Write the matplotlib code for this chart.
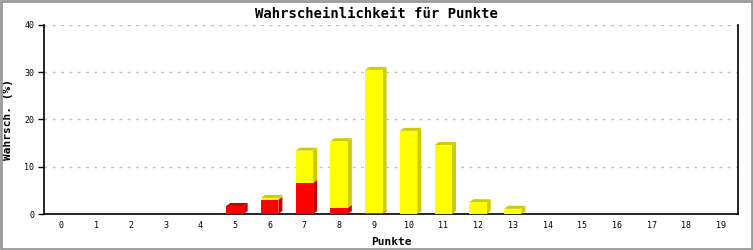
import numpy as np
import matplotlib
matplotlib.use("Agg")
import matplotlib.pyplot as plt

punkte = list(range(20))
rot = [0, 0, 0, 0, 0, 1.7, 3.0, 6.6, 1.3, 0.2, 0, 0, 0, 0, 0, 0, 0, 0, 0, 0]
gelb = [0, 0, 0, 0, 0, 0, 0.4, 6.8, 14.1, 30.3, 17.6, 14.6, 2.5, 1.1, 0, 0, 0, 0, 0, 0]
y_ticks = [0, 10, 20, 30, 40]

plt.rcParams["font.family"] = "DejaVu Sans Mono"

fig = plt.figure(figsize=(7.53, 2.5), dpi=100)
W, H = 753, 250
ax = fig.add_axes([44 / W, 1 - 214 / H, (738.5 - 44) / W, (214 - 25) / H])

ax.set_xlim(-0.5, 19.5)
ax.set_ylim(0, 40)

bw = 0.5
dx = 4 / 34.75   # depth in x (data units)
dy = 3 / 4.725   # depth in y (data units)


def draw_seg(x, y0, y1, front, dark, top):
    l, r = x - bw / 2, x + bw / 2
    ax.fill([r, r + dx, r + dx, r], [y0, y0 + dy, y1 + dy, y1], color=dark, lw=0, zorder=3)
    if top:
        ax.fill([l, l + dx, r + dx, r], [y1, y1 + dy, y1 + dy, y1], color=dark, lw=0, zorder=3)
    ax.fill([l, r, r, l], [y0, y0, y1, y1], color=front, lw=0, zorder=4)


for x, r_val, g_val in zip(punkte, rot, gelb):
    if r_val > 0:
        draw_seg(x, 0, r_val, "#ff0000", "#cc0000", g_val == 0)
    if g_val > 0:
        draw_seg(x, r_val, r_val + g_val, "#ffff00", "#cccc00", True)

for yt in y_ticks[1:]:
    ax.axhline(yt, color="#c0c0c0", lw=1, ls=(0, (2, 4)), zorder=1)

ax.set_xticks(punkte)
ax.set_xticklabels([str(p) for p in punkte], fontsize=6)
ax.set_yticks(y_ticks)
ax.set_yticklabels([str(t) for t in y_ticks], fontsize=6)
ax.tick_params(axis="x", length=0, pad=5)
ax.tick_params(axis="y", length=4, width=1, pad=3)

for s in ["left", "bottom", "right"]:
    ax.spines[s].set_linewidth(1.2)
    ax.spines[s].set_color("black")
ax.spines["top"].set_visible(False)

ax.set_xlabel("Punkte", fontsize=8, fontweight="bold", labelpad=5)
ax.set_ylabel("Wahrsch. (%)", fontsize=8, fontweight="bold")
ax.yaxis.set_label_coords(-31 / 694.5, 0.5)
fig.text(0.5, 1 - 14 / H, "Wahrscheinlichkeit für Punkte", ha="center", va="center",
         fontsize=10, fontweight="bold")

# grey frame around the image
fig.patches.append(plt.Rectangle((0.0013, 0.004), 0.9974, 0.992, transform=fig.transFigure,
                                 fill=False, edgecolor="#999999", lw=2))

fig.savefig("out.png", dpi=100)
